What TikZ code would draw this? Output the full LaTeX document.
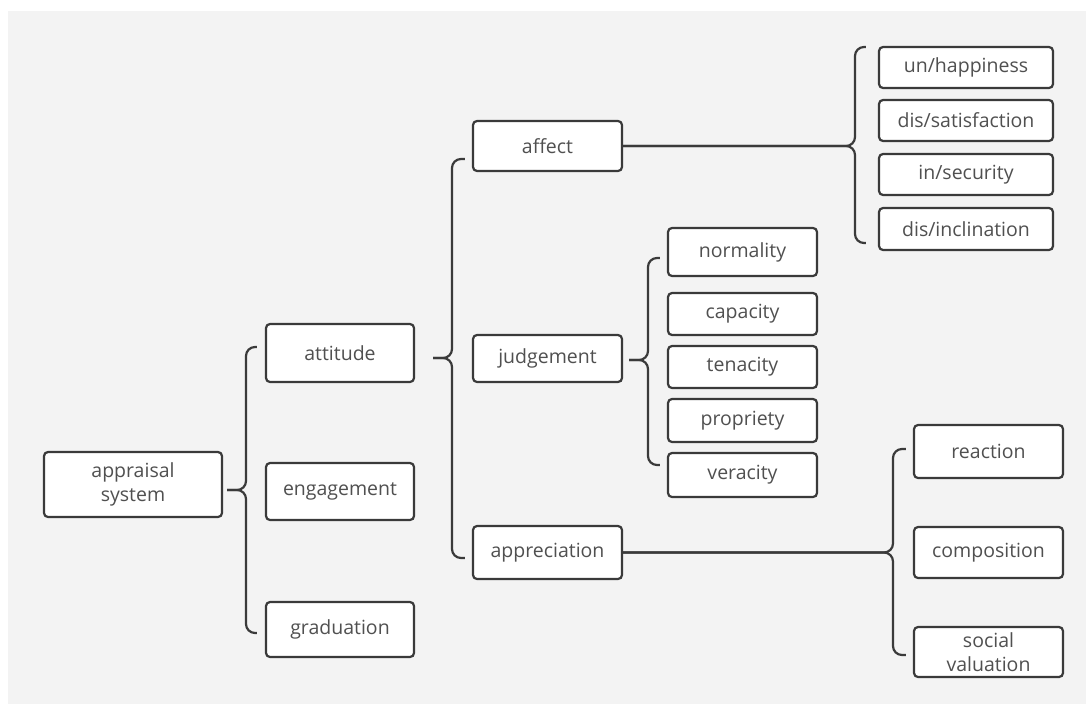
\documentclass[tikz,border=0pt]{standalone}
\usepackage{fontspec}
\newfontfamily\bodyfont{Open Sans}
\usetikzlibrary{calc}
\definecolor{bg}{HTML}{F3F3F3}
\definecolor{linec}{HTML}{3A3A3A}
\definecolor{txt}{HTML}{505050}
\tikzset{
  box/.style={draw=linec, line width=2.2pt, rounded corners=4pt, fill=white,
    text=txt, font=\bodyfont\fontsize{19.5}{23.5}\selectfont, align=center, inner sep=0pt},
  conn/.style={draw=linec, line width=2.2pt, rounded corners=9pt},
}
\begin{document}
\begin{tikzpicture}[x=1pt,y=-1pt]
\useasboundingbox (0,0) rectangle (1086,704);
\fill[bg] (8,11) rectangle (1086,704);

% level 0
\node[box, minimum width=178pt, minimum height=65pt] (appraisal) at (133,484.5) {appraisal\\system};
% level 1
\node[box, minimum width=148pt, minimum height=58pt] (attitude) at (340,353) {attitude};
\node[box, minimum width=148pt, minimum height=57pt] (engagement) at (340,491.5) {engagement};
\node[box, minimum width=148pt, minimum height=55pt] (graduation) at (340,629.5) {graduation};
% level 2
\node[box, minimum width=149pt, minimum height=50pt] (affect) at (547.5,146) {affect};
\node[box, minimum width=149pt, minimum height=47pt] (judgement) at (547.5,358.5) {judgement};
\node[box, minimum width=149pt, minimum height=53pt] (appreciation) at (547.5,552.5) {appreciation};
% judgement children
\node[box, minimum width=149pt, minimum height=48pt] (normality) at (742.5,252) {normality};
\node[box, minimum width=149pt, minimum height=42pt] (capacity) at (742.5,314) {capacity};
\node[box, minimum width=149pt, minimum height=42pt] (tenacity) at (742.5,367) {tenacity};
\node[box, minimum width=149pt, minimum height=43pt] (propriety) at (742.5,420.5) {propriety};
\node[box, minimum width=149pt, minimum height=44pt] (veracity) at (742.5,475) {veracity};
% affect children
\node[box, minimum width=174pt, minimum height=41pt] (unhappy) at (966,67.5) {un/happiness};
\node[box, minimum width=174pt, minimum height=41pt] (dissat) at (966,120.5) {dis/satisfaction};
\node[box, minimum width=174pt, minimum height=41pt] (insec) at (966,174.5) {in/security};
\node[box, minimum width=174pt, minimum height=42pt] (disincl) at (966,229) {dis/inclination};
% appreciation children
\node[box, minimum width=149pt, minimum height=53pt] (reaction) at (988.5,451.5) {reaction};
\node[box, minimum width=149pt, minimum height=51pt] (composition) at (988.5,552.5) {composition};
\node[box, minimum width=149pt, minimum height=50pt] (social) at (988.5,652) {social\\valuation};

% braces
\coordinate (t1) at (227,490);
\draw[conn] (t1) -- ++(19,0) |- ($(attitude.west)+(-8,-6)$);
\draw[conn] (t1) -- ++(19,0) |- ($(graduation.west)+(-8,3.5)$);

\coordinate (t2) at (433,358);
\draw[conn] (t2) -- ++(19,0) |- ($(affect.west)+(-7,13)$);
\draw[conn] (t2) -- ++(19,0) |- ($(appreciation.west)+(-7,5.5)$);

\coordinate (t3) at (629,360);
\draw[conn] (t3) -- ++(19,0) |- ($(normality.west)+(-7,6)$);
\draw[conn] (t3) -- ++(19,0) |- ($(veracity.west)+(-7,-10)$);

\coordinate (v4) at (855,146);
\draw[conn] (affect.east) -- (v4) |- ($(unhappy.west)+(-12,-20.5)$);
\draw[conn] (affect.east) -- (v4) |- ($(disincl.west)+(-12,14)$);

\coordinate (v5) at (893,552.5);
\draw[conn] (appreciation.east) -- (v5) |- ($(reaction.west)+(-7,-2.5)$);
\draw[conn] (appreciation.east) -- (v5) |- ($(social.west)+(-7,3)$);
\end{tikzpicture}
\end{document}
